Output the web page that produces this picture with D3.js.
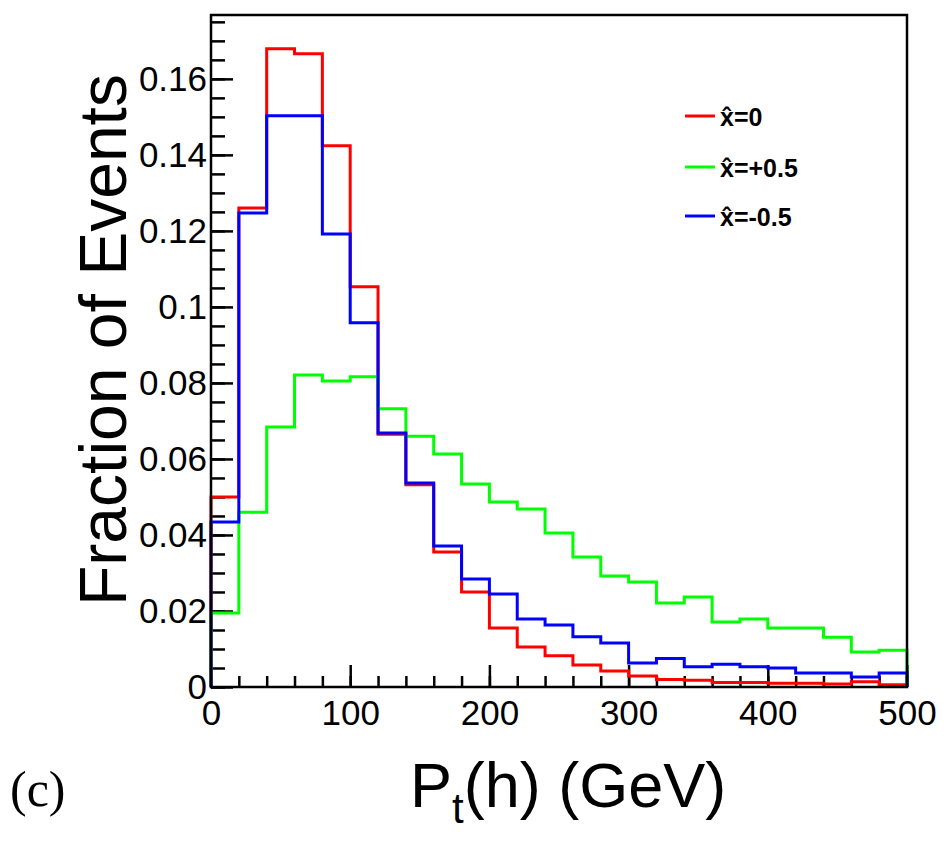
<!DOCTYPE html>
<meta charset="utf-8">
<style>
body { margin: 0; background: #fff; }
text { font-family: "Liberation Sans", Arial, sans-serif; fill: #000; }
</style>
<body>
<div id="chart"></div>
<script src="https://cdn.jsdelivr.net/npm/d3@7"></script>
<script>

// bin edges 0..500 GeV, 20 GeV wide
var binEdges = d3.range(0, 520, 20);

var xhat0 = [0.0500, 0.1260, 0.1679, 0.1666, 0.1424, 0.1053, 0.0665, 0.0532,
             0.0355, 0.0250, 0.0155, 0.0105, 0.0082, 0.0058, 0.0042, 0.0029,
             0.0020, 0.0018, 0.0012, 0.0012, 0.0010, 0.0010, 0.0008, 0.0014, 0.0006];

var xhatPlus = [0.0195, 0.0460, 0.0684, 0.0821, 0.0805, 0.0816, 0.0732, 0.0660,
                0.0613, 0.0534, 0.0487, 0.0468, 0.0405, 0.0342, 0.0292, 0.0276,
                0.0221, 0.0237, 0.0171, 0.0179, 0.0155, 0.0155, 0.0131, 0.0092, 0.0097];

var xhatMinus = [0.0434, 0.1247, 0.1503, 0.1503, 0.1192, 0.0958, 0.0668, 0.0537,
                 0.0371, 0.0284, 0.0245, 0.0179, 0.0163, 0.0132, 0.0116, 0.0063,
                 0.0075, 0.0053, 0.0060, 0.0053, 0.0050, 0.0037, 0.0037, 0.0026, 0.0037];

var seriesNames = ["x\u0302=0", "x\u0302=+0.5", "x\u0302=-0.5"];
var seriesColors = ["#ff0000", "#00ff00", "#0000ff"];

var yMajor = [0, 0.02, 0.04, 0.06, 0.08, 0.1, 0.12, 0.14, 0.16];
var xMajor = [0, 100, 200, 300, 400, 500];

var width = 948, height = 842;
var plotL = 211, plotR = 907, plotT = 15, plotB = 687;

var svg = d3.select("#chart").append("svg")
    .attr("width", width)
    .attr("height", height);

var x = d3.scaleLinear().domain([0, 500]).range([plotL, plotR]);
var y = d3.scaleLinear().domain([0, 0.1768]).range([plotB, plotT]);

// minor ticks first
svg.append("g")
    .attr("transform", "translate(" + plotL + ",0)")
    .call(d3.axisLeft(y).tickValues(d3.range(0, 0.1775, 0.005)).tickSize(-14).tickFormat(""))
    .call(function(g) { g.select(".domain").remove(); })
    .selectAll("line").attr("stroke", "#000").attr("stroke-width", 2.5);

svg.append("g")
    .attr("transform", "translate(0," + plotB + ")")
    .call(d3.axisBottom(x).tickValues(d3.range(0, 501, 20)).tickSize(-11).tickFormat(""))
    .call(function(g) { g.select(".domain").remove(); })
    .selectAll("line").attr("stroke", "#000").attr("stroke-width", 2.5);

// major ticks with labels
var yAxis = svg.append("g")
    .attr("transform", "translate(" + plotL + ",0)")
    .call(d3.axisLeft(y).tickValues(yMajor).tickSize(-22).tickPadding(4)
        .tickFormat(function(d) { return d === 0 ? "0" : String(+d.toFixed(2)); }));
yAxis.select(".domain").remove();
yAxis.selectAll("line").attr("stroke", "#000").attr("stroke-width", 2.5);
yAxis.selectAll("text").attr("font-size", 35);

var xAxis = svg.append("g")
    .attr("transform", "translate(0," + plotB + ")")
    .call(d3.axisBottom(x).tickValues(xMajor).tickSize(-22).tickPadding(13));
xAxis.select(".domain").remove();
xAxis.selectAll("line").attr("stroke", "#000").attr("stroke-width", 2.5);
xAxis.selectAll("text").attr("font-size", 35);

// histograms
var line = d3.line()
    .x(function(d) { return x(d[0]); })
    .y(function(d) { return y(d[1]); })
    .curve(d3.curveStepAfter);

[xhat0, xhatPlus, xhatMinus].forEach(function(vals, i) {
    var pts = [[0, 0]];
    vals.forEach(function(v, j) { pts.push([binEdges[j], v]); });
    pts.push([500, vals[vals.length - 1]]);
    pts.push([500, 0]);
    svg.append("path")
        .attr("d", line(pts))
        .attr("fill", "none")
        .attr("stroke", seriesColors[i])
        .attr("stroke-width", 3);
});

// frame
svg.append("rect")
    .attr("x", plotL).attr("y", plotT)
    .attr("width", plotR - plotL).attr("height", plotB - plotT)
    .attr("fill", "none")
    .attr("stroke", "#000")
    .attr("stroke-width", 2.5);

// legend
var legendY = [116, 167, 216];
seriesNames.forEach(function(name, i) {
    svg.append("line")
        .attr("x1", 685).attr("x2", 715)
        .attr("y1", legendY[i]).attr("y2", legendY[i])
        .attr("stroke", seriesColors[i])
        .attr("stroke-width", 3);
    svg.append("text")
        .attr("x", 720).attr("y", legendY[i] + 10)
        .attr("font-size", 25)
        .attr("font-weight", "bold")
        .text(name);
});

// axis titles
svg.append("text")
    .attr("transform", "translate(126,340) rotate(-90)")
    .attr("text-anchor", "middle")
    .attr("font-size", 66)
    .text("Fraction of Events");

var xt = svg.append("text")
    .attr("x", 410).attr("y", 807)
    .attr("font-size", 63);
xt.append("tspan").text("P");
xt.append("tspan").attr("dy", 16).attr("font-size", 42).text("t");
xt.append("tspan").attr("dy", -16).text("(h) (GeV)");

svg.append("text")
    .attr("x", 10).attr("y", 806)
    .style("font-family", "'Liberation Serif', 'Times New Roman', serif")
    .attr("font-size", 50)
    .text("(c)");

</script>
</body>
